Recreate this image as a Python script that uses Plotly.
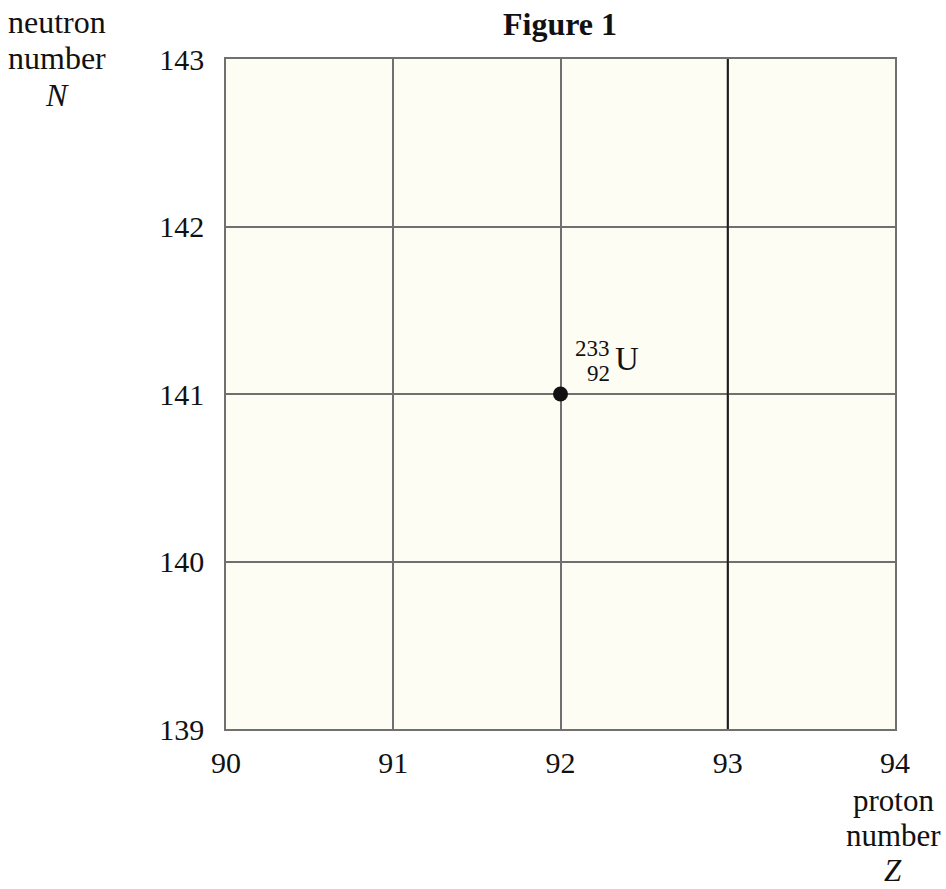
import plotly.graph_objects as go

# Axis ranges and ticks
proton_ticks = [90, 91, 92, 93, 94]
neutron_ticks = [139, 140, 141, 142, 143]

# Nuclide plotted on the chart
nuclide_Z = [92]
nuclide_N = [141]
nuclide_mass = "233"
nuclide_atomic = "92"
nuclide_symbol = "U"

# Axis title lines
y_title_lines = ["neutron", "number", "<i>N</i>"]
x_title_lines = ["proton", "number", "<i>Z</i>"]

FONT = "Liberation Serif, Times New Roman, serif"
INK = "#111111"
W, H = 946, 889
ML, MR, MT, MB = 226, 51, 59, 160
PW = W - ML - MR
PH = H - MT - MB


def px_x(px):
    return (px - ML) / PW


def px_y(py):
    return 1 - (py - MT) / PH


fig = go.Figure()

fig.add_trace(go.Scatter(
    x=nuclide_Z, y=nuclide_N, mode="markers",
    marker=dict(color=INK, size=15, line=dict(width=0)),
    hoverinfo="skip", showlegend=False,
))

# Darker grid line at Z = 93
fig.add_shape(type="line", xref="x", yref="paper",
              x0=proton_ticks[3], x1=proton_ticks[3], y0=0, y1=1,
              line=dict(color="#1e1e1e", width=2), layer="above")

# Nuclide label: mass number over atomic number, then symbol
z0, n0 = nuclide_Z[0], nuclide_N[0]
fig.add_annotation(x=z0, y=n0, xref="x", yref="y", text=nuclide_mass,
                   showarrow=False, xanchor="right", yanchor="middle",
                   xshift=51, yshift=46,
                   font=dict(family=FONT, size=23, color=INK))
fig.add_annotation(x=z0, y=n0, xref="x", yref="y", text=nuclide_atomic,
                   showarrow=False, xanchor="right", yanchor="middle",
                   xshift=51, yshift=21,
                   font=dict(family=FONT, size=23, color=INK))
fig.add_annotation(x=z0, y=n0, xref="x", yref="y", text=nuclide_symbol,
                   showarrow=False, xanchor="left", yanchor="middle",
                   xshift=52, yshift=35,
                   font=dict(family=FONT, size=33, color=INK))

# Axis titles, one annotation per line
for line, py in zip(y_title_lines, [22, 58, 95]):
    fig.add_annotation(xref="paper", yref="paper", x=px_x(57), y=px_y(py),
                       text=line, showarrow=False,
                       xanchor="center", yanchor="middle",
                       font=dict(family=FONT, size=32, color=INK))
for line, py in zip(x_title_lines, [800, 835, 870]):
    fig.add_annotation(xref="paper", yref="paper", x=px_x(893), y=px_y(py),
                       text=line, showarrow=False,
                       xanchor="center", yanchor="middle",
                       font=dict(family=FONT, size=31, color=INK))

# Figure heading
fig.add_annotation(xref="paper", yref="paper", x=px_x(560), y=px_y(24),
                   text="<b>Figure 1</b>", showarrow=False,
                   xanchor="center", yanchor="middle",
                   font=dict(family=FONT, size=32, color=INK))

axis_common = dict(
    showgrid=True, gridcolor="#707070", gridwidth=1.5,
    zeroline=False, showline=True, linecolor="#707070", linewidth=1.5,
    mirror=True, ticks="", fixedrange=True,
    tickfont=dict(family=FONT, size=30, color=INK),
)

fig.update_xaxes(range=[proton_ticks[0], proton_ticks[-1]],
                 tickvals=proton_ticks, ticktext=[str(v) for v in proton_ticks],
                 ticklabelstandoff=6, **axis_common)
fig.update_yaxes(range=[neutron_ticks[0], neutron_ticks[-1]],
                 tickvals=neutron_ticks, ticktext=[str(v) for v in neutron_ticks],
                 ticklabelstandoff=14, **axis_common)

fig.update_layout(
    width=W, height=H, autosize=False,
    margin=dict(l=ML, r=MR, t=MT, b=MB, pad=0),
    paper_bgcolor="white", plot_bgcolor="#fdfdf4",
    showlegend=False,
)

fig.write_html("out.html", config={"displayModeBar": False})
